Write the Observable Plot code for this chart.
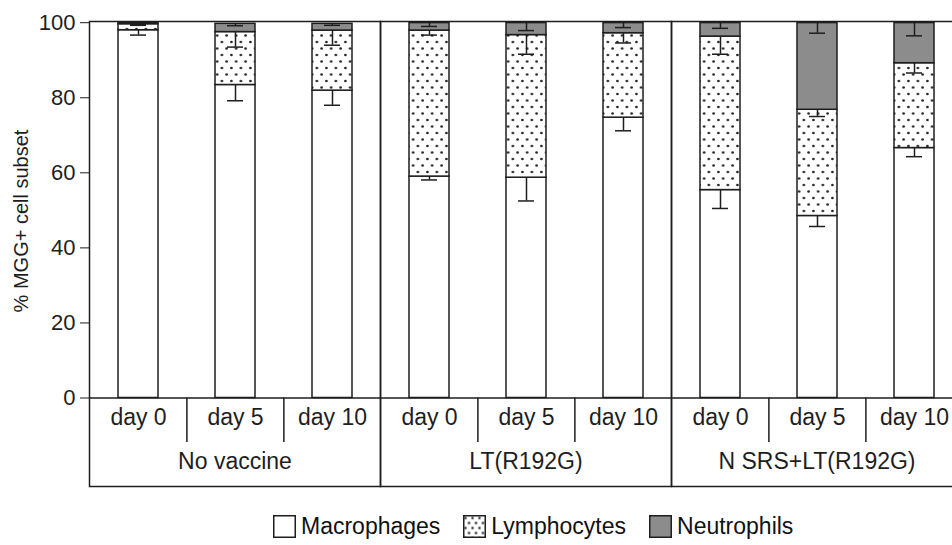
<!DOCTYPE html>
<html>
<head>
<meta charset="utf-8">
<script src="https://cdn.jsdelivr.net/npm/d3@7"></script>
<script src="https://cdn.jsdelivr.net/npm/@observablehq/plot@0.6"></script>
<style>
  html, body { margin: 0; padding: 0; background: #fff; overflow: hidden; width: 952px; height: 545px; }
  #chart { position: relative; width: 952px; height: 545px; overflow: hidden; }
  .legend { position: absolute; left: 273px; top: 513px; display: flex; align-items: center;
            font-family: "Liberation Sans", Arial, sans-serif; font-size: 23px; color: #111; white-space: nowrap; }
  .legend .item { display: flex; align-items: center; margin-right: 23px; }
  .legend svg { margin-right: 5px; display: block; }
</style>
</head>
<body>
<div id="chart"></div>
<script>
// ---- data ----
const groups = ["No vaccine", "LT(R192G)", "N SRS+LT(R192G)"];
const days = ["day 0", "day 5", "day 10"];
const cellTypes = ["Macrophages", "Lymphocytes", "Neutrophils"];
// values in order: group x day (No vaccine d0,d5,d10, LT d0,d5,d10, N SRS d0,d5,d10)
const macrophages   = [98.0, 83.4, 81.9, 59.0, 58.7, 74.7, 55.4, 48.5, 66.6];
const lymphocytes   = [ 1.6, 14.1, 16.0, 38.9, 38.0, 22.5, 40.9, 28.3, 22.6];
const neutrophils   = [ 0.3,  2.2,  1.8,  2.0,  3.2,  2.7,  3.6, 23.1, 10.7];
const macrophageErr = [ 1.3,  4.2,  3.9,  0.9,  6.2,  3.5,  4.9,  2.8,  2.3];
const lymphocyteErr = [ 0.3,  4.0,  3.9,  1.2,  5.1,  2.6,  4.7,  1.8,  2.6];
const neutrophilErr = [ 0.3,  0.5,  0.4,  0.9,  2.0,  1.2,  1.4,  2.7,  3.4];
const yTicks = [0, 20, 40, 60, 80, 100];
const yLabel = "% MGG+ cell subset";
const fills = ["#ffffff", "url(#dots)", "#8c8c8c"];

// ---- build table ----
const seriesValues = [macrophages, lymphocytes, neutrophils];
const seriesErrs = [macrophageErr, lymphocyteErr, neutrophilErr];
const rows = [];
for (let i = 0; i < macrophages.length; i++) {
  const group = groups[Math.floor(i / days.length)];
  const day = days[i % days.length];
  let cum = 0;
  cellTypes.forEach((type, k) => {
    const value = seriesValues[k][i];
    cum += value;
    rows.push({group, day, type, value, top: cum, low: cum - seriesErrs[k][i]});
  });
}
const cells = groups.flatMap(g => days.map(d => ({group: g, day: d})));
const separators = groups.flatMap(g => days.slice(1).map(d => ({group: g, day: d})));

// ---- layout ----
const width = 964, height = 500;
const marginLeft = 88, marginRight = 1, marginTop = 21, marginBottom = 14;
const y0px = 397.5, y100px = 22.2;
const facetW = (width - marginLeft - marginRight) / groups.length;
const step = facetW / days.length;
const ink = "#1e1e1e";
const sw = 1.5;

const chart = Plot.plot({
  width, height, marginLeft, marginRight, marginTop, marginBottom,
  style: {fontFamily: "'Liberation Sans', Arial, sans-serif", fontSize: "22px", color: ink, background: "#fff", maxWidth: "none"},
  fx: {domain: groups, padding: 0, axis: null},
  x: {domain: days, paddingInner: 0.59, paddingOuter: 0.295, axis: null},
  y: {domain: [0, 100], range: [y0px, y100px], label: null},
  color: {type: "ordinal", domain: cellTypes, range: fills},
  marks: [
    Plot.barY(rows, Plot.stackY({x: "day", fx: "group", y: "value", fill: "type", order: cellTypes, stroke: ink, strokeWidth: sw})),
    Plot.ruleX(rows, {x: "day", fx: "group", y1: "top", y2: "low", stroke: ink, strokeWidth: sw}),
    Plot.tickY(rows, {x: "day", fx: "group", y: "low", stroke: ink, strokeWidth: sw, insetLeft: 12, insetRight: 12}),
    Plot.ruleY([0], {stroke: ink, strokeWidth: sw}),
    Plot.ruleX(separators, {x: "day", fx: "group", dx: -step / 2, stroke: ink, strokeWidth: sw,
      insetTop: y0px - marginTop, insetBottom: 44}),
    Plot.text(cells, {x: "day", fx: "group", text: "day", frameAnchor: "bottom", lineAnchor: "middle", dy: -69, fontSize: 23, fill: ink}),
    Plot.text(groups, {fx: d => d, text: d => d, frameAnchor: "bottom", lineAnchor: "middle", dy: -25, fontSize: 23, fill: ink}),
    Plot.text([yLabel], {fx: () => groups[0], text: d => d, frameAnchor: "left", textAnchor: "middle", lineAnchor: "middle",
      rotate: -90, dx: -68, dy: -33, fontSize: 20, fill: ink}),
    Plot.axisY({ticks: yTicks, tickSize: 9, tickPadding: 5, fontSize: 22, label: null}),
    Plot.frame({stroke: ink, strokeWidth: sw})
  ]
});

d3.select(chart).insert("defs", ":first-child").html(
  `<pattern id="dots" width="9.5" height="13" patternUnits="userSpaceOnUse">
     <rect width="9.5" height="13" fill="#fff"/>
     <circle cx="2.4" cy="3" r="1.35" fill="#222"/>
     <circle cx="7.15" cy="9.5" r="1.35" fill="#222"/>
   </pattern>`);

const container = document.getElementById("chart");
container.appendChild(chart);

// ---- legend ----
const legend = document.createElement("div");
legend.className = "legend";
cellTypes.forEach((t, k) => {
  const item = document.createElement("div");
  item.className = "item";
  const sv = `<svg width="23" height="23" viewBox="0 0 23 23">
    <defs><pattern id="ldots" x="0.5" y="0.5" width="7" height="10" patternUnits="userSpaceOnUse">
      <rect width="7" height="10" fill="#fff"/>
      <circle cx="2" cy="2.5" r="1.2" fill="#222"/>
      <circle cx="5.5" cy="7.5" r="1.2" fill="#222"/></pattern></defs>
    <rect x="0.75" y="0.75" width="21.5" height="21.5" fill="${fills[k] === "url(#dots)" ? "url(#ldots)" : fills[k]}" stroke="${ink}" stroke-width="1.5"/></svg>`;
  item.innerHTML = sv + `<span>${t}</span>`;
  legend.appendChild(item);
});
container.appendChild(legend);
</script>
</body>
</html>
